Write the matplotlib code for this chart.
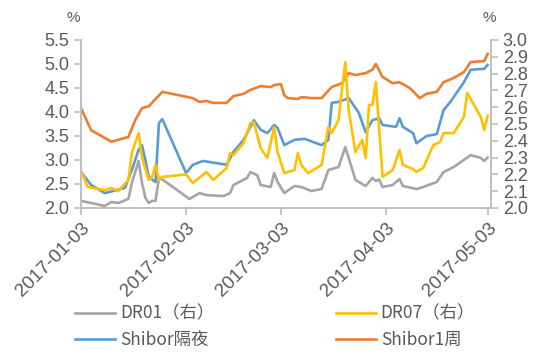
# =============================================================================
# Libraries
# =============================================================================
import matplotlib
matplotlib.use("Agg")
import matplotlib.pyplot as plt
import matplotlib.dates as mdates
import pandas as pd

# =============================================================================
# Data
# =============================================================================
# Shibor 1W (left axis, %)
shibor_1w_dates = [
    "2017-01-03", "2017-01-06", "2017-01-12", "2017-01-17", "2017-01-19",
    "2017-01-21", "2017-01-23", "2017-01-27", "2017-02-05", "2017-02-07",
    "2017-02-09", "2017-02-11", "2017-02-15", "2017-02-17", "2017-02-20",
    "2017-02-22", "2017-02-25", "2017-02-28", "2017-03-01", "2017-03-03",
    "2017-03-04", "2017-03-05", "2017-03-08", "2017-03-09", "2017-03-12",
    "2017-03-15", "2017-03-18", "2017-03-21", "2017-03-23", "2017-03-25",
    "2017-03-28", "2017-03-30", "2017-03-31", "2017-04-02", "2017-04-05",
    "2017-04-07", "2017-04-10", "2017-04-13", "2017-04-15", "2017-04-18",
    "2017-04-20", "2017-04-23", "2017-04-26", "2017-04-28", "2017-05-02",
    "2017-05-03",
]
shibor_1w = [
    4.08, 3.62, 3.38, 3.48, 3.83,
    4.08, 4.12, 4.42, 4.29, 4.21,
    4.23, 4.19, 4.19, 4.33, 4.38,
    4.46, 4.54, 4.52, 4.56, 4.58,
    4.35, 4.29, 4.27, 4.31, 4.29,
    4.29, 4.52, 4.60, 4.81, 4.77,
    4.81, 4.88, 5.00, 4.73, 4.60,
    4.62, 4.50, 4.29, 4.38, 4.42,
    4.62, 4.71, 4.83, 5.04, 5.06,
    5.21,
]

# Shibor overnight (left axis, %)
shibor_on_dates = [
    "2017-01-03", "2017-01-06", "2017-01-10", "2017-01-16", "2017-01-18",
    "2017-01-20", "2017-01-21", "2017-01-22", "2017-01-23", "2017-01-25",
    "2017-01-26", "2017-01-27", "2017-02-03", "2017-02-05", "2017-02-08",
    "2017-02-15", "2017-02-17", "2017-02-20", "2017-02-22", "2017-02-23",
    "2017-02-25", "2017-02-27", "2017-03-01", "2017-03-02", "2017-03-04",
    "2017-03-07", "2017-03-10", "2017-03-15", "2017-03-17", "2017-03-18",
    "2017-03-20", "2017-03-23", "2017-03-26", "2017-03-28", "2017-03-30",
    "2017-04-01", "2017-04-02", "2017-04-06", "2017-04-07", "2017-04-08",
    "2017-04-11", "2017-04-12", "2017-04-15", "2017-04-18", "2017-04-20",
    "2017-04-22", "2017-04-26", "2017-04-28", "2017-05-02", "2017-05-03",
]
shibor_on = [
    2.75, 2.48, 2.31, 2.42, 2.79,
    3.21, 3.31, 3.00, 2.65, 2.54,
    3.77, 3.85, 2.73, 2.90, 2.98,
    2.90, 3.17, 3.42, 3.69, 3.83,
    3.63, 3.56, 3.73, 3.67, 3.31,
    3.42, 3.44, 3.31, 3.42, 4.19,
    4.21, 4.29, 3.98, 3.58, 3.83,
    3.87, 3.73, 3.69, 3.87, 3.69,
    3.56, 3.35, 3.50, 3.54, 4.04,
    4.21, 4.62, 4.88, 4.90, 4.98,
]

# DR07 (right axis, %)
dr07_dates = [
    "2017-01-03", "2017-01-05", "2017-01-10", "2017-01-12", "2017-01-14",
    "2017-01-17", "2017-01-18", "2017-01-20", "2017-01-21", "2017-01-23",
    "2017-01-24", "2017-01-25", "2017-01-26", "2017-01-27", "2017-02-03",
    "2017-02-05", "2017-02-09", "2017-02-11", "2017-02-15", "2017-02-16",
    "2017-02-17", "2017-02-20", "2017-02-22", "2017-02-23", "2017-02-25",
    "2017-02-27", "2017-03-01", "2017-03-02", "2017-03-04", "2017-03-07",
    "2017-03-08", "2017-03-09", "2017-03-11", "2017-03-15", "2017-03-17",
    "2017-03-18", "2017-03-20", "2017-03-21", "2017-03-22", "2017-03-23",
    "2017-03-25", "2017-03-27", "2017-03-28", "2017-03-29", "2017-03-30",
    "2017-03-31", "2017-04-02", "2017-04-05", "2017-04-07", "2017-04-08",
    "2017-04-11", "2017-04-12", "2017-04-14", "2017-04-17", "2017-04-19",
    "2017-04-20", "2017-04-23", "2017-04-26", "2017-04-27", "2017-05-01",
    "2017-05-02", "2017-05-03",
]
dr07 = [
    2.22, 2.125, 2.107, 2.119, 2.10,
    2.167, 2.327, 2.446, 2.30, 2.167,
    2.185, 2.256, 2.167, 2.185, 2.20,
    2.149, 2.214, 2.167, 2.238, 2.327,
    2.315, 2.387, 2.506, 2.512, 2.357,
    2.298, 2.482, 2.333, 2.208, 2.226,
    2.327, 2.256, 2.208, 2.256, 2.482,
    2.446, 2.524, 2.702, 2.869, 2.583,
    2.333, 2.405, 2.298, 2.613, 2.613,
    2.75, 2.185, 2.226, 2.345, 2.256,
    2.232, 2.214, 2.238, 2.375, 2.393,
    2.446, 2.446, 2.542, 2.685, 2.542,
    2.464, 2.548,
]

# DR01 (right axis, %)
dr01_dates = [
    "2017-01-03", "2017-01-06", "2017-01-10", "2017-01-12", "2017-01-14",
    "2017-01-17", "2017-01-18", "2017-01-20", "2017-01-21", "2017-01-22",
    "2017-01-23", "2017-01-24", "2017-01-25", "2017-01-26", "2017-01-27",
    "2017-02-04", "2017-02-07", "2017-02-09", "2017-02-14", "2017-02-16",
    "2017-02-17", "2017-02-21", "2017-02-22", "2017-02-24", "2017-02-25",
    "2017-02-28", "2017-03-01", "2017-03-02", "2017-03-04", "2017-03-07",
    "2017-03-09", "2017-03-12", "2017-03-15", "2017-03-17", "2017-03-20",
    "2017-03-22", "2017-03-23", "2017-03-25", "2017-03-28", "2017-03-30",
    "2017-03-31", "2017-04-01", "2017-04-02", "2017-04-05", "2017-04-07",
    "2017-04-08", "2017-04-12", "2017-04-14", "2017-04-18", "2017-04-20",
    "2017-04-23", "2017-04-26", "2017-04-28", "2017-05-01", "2017-05-02",
    "2017-05-03",
]
dr01 = [
    2.042, 2.03, 2.012, 2.036, 2.03,
    2.054, 2.149, 2.28, 2.149, 2.06,
    2.03, 2.042, 2.042, 2.179, 2.17,
    2.054, 2.089, 2.077, 2.071, 2.089,
    2.137, 2.179, 2.214, 2.196, 2.137,
    2.125, 2.208, 2.155, 2.089, 2.131,
    2.125, 2.101, 2.113, 2.226, 2.244,
    2.363, 2.298, 2.167, 2.131, 2.179,
    2.16, 2.17, 2.125, 2.137, 2.173,
    2.131, 2.113, 2.125, 2.155, 2.214,
    2.244, 2.286, 2.315, 2.298, 2.28,
    2.30,
]

tick_dates = ["2017-01-03", "2017-02-03", "2017-03-03", "2017-04-03", "2017-05-03"]
left_ticks = [2.0, 2.5, 3.0, 3.5, 4.0, 4.5, 5.0, 5.5]
right_ticks = [2.0, 2.1, 2.2, 2.3, 2.4, 2.5, 2.6, 2.7, 2.8, 2.9, 3.0]

# =============================================================================
# Style
# =============================================================================
C_GRAY = "#A5A5A5"
C_YELLOW = "#FFC000"
C_BLUE = "#5B9BD5"
C_ORANGE = "#ED7D31"
C_AXIS = "#BFBFBF"
C_TEXT = "#595959"
LW = 1.9

plt.rcParams["font.family"] = ["Liberation Sans", "Noto Sans CJK SC", "DejaVu Sans"]

# =============================================================================
# Plot
# =============================================================================
fig = plt.figure(figsize=(5.43, 3.54), dpi=100)
ax = fig.add_axes([81 / 543, 1 - 208 / 354, 410 / 543, 168 / 354])
ax2 = ax.twinx()

l_on, = ax.plot(pd.to_datetime(shibor_on_dates), shibor_on, color=C_BLUE, lw=LW)
l_1w, = ax.plot(pd.to_datetime(shibor_1w_dates), shibor_1w, color=C_ORANGE, lw=LW)
l_01, = ax2.plot(pd.to_datetime(dr01_dates), dr01, color=C_GRAY, lw=LW)
l_07, = ax2.plot(pd.to_datetime(dr07_dates), dr07, color=C_YELLOW, lw=LW)

ax.set_xlim(pd.Timestamp("2017-01-03"), pd.Timestamp("2017-05-04"))
ax.set_ylim(2.0, 5.5)
ax2.set_ylim(2.0, 3.0)

ax.set_yticks(left_ticks)
ax.set_yticklabels([f"{v:.1f}" for v in left_ticks])
ax2.set_yticks(right_ticks)
ax2.set_yticklabels([f"{v:.1f}" for v in right_ticks])
ax.set_xticks(pd.to_datetime(tick_dates))
ax.xaxis.set_major_formatter(mdates.DateFormatter("%Y-%m-%d"))

for a in (ax, ax2):
    a.spines["top"].set_visible(False)
    for side in ("left", "right", "bottom"):
        a.spines[side].set_color(C_AXIS)
        a.spines[side].set_linewidth(1.2)
    a.tick_params(colors=C_AXIS, labelcolor=C_TEXT, labelsize=13, length=5, width=1.2)

ax.tick_params(axis="x", labelsize=13.5)
plt.setp(ax.get_xticklabels(), rotation=45, ha="right", rotation_mode="anchor")

fig.text(73 / 543, 1 - 18 / 354, "%", ha="center", va="center", fontsize=11, color=C_TEXT)
fig.text(489 / 543, 1 - 18 / 354, "%", ha="center", va="center", fontsize=11, color=C_TEXT)

fig.legend(
    [l_01, l_on, l_07, l_1w],
    ["DR01（右）", "Shibor隔夜", "DR07（右）", "Shibor1周"],
    ncol=2,
    loc="upper left",
    bbox_to_anchor=(66 / 543, 1 - 296 / 354),
    frameon=False,
    prop={"family": ["Noto Sans CJK SC"], "size": 12.5},
    labelcolor=C_TEXT,
    handlelength=2.3,
    handletextpad=0.3,
    columnspacing=7.0,
    labelspacing=0.5,
    borderpad=0,
)

fig.savefig("out.png", dpi=100)
